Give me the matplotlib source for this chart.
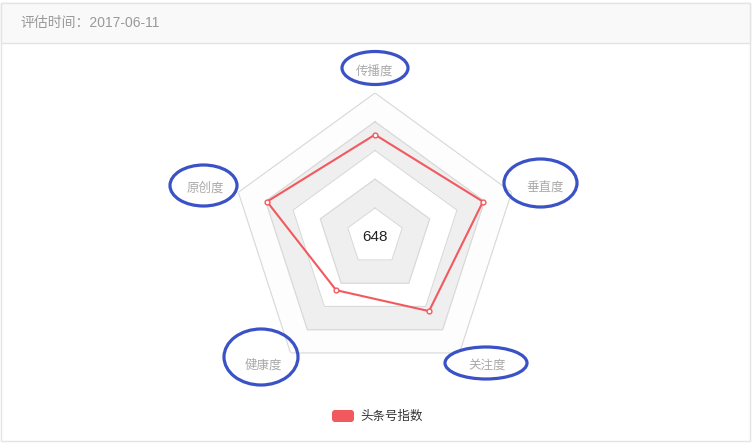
import numpy as np
import matplotlib
matplotlib.use('Agg')
import matplotlib.pyplot as plt
from matplotlib.patches import Ellipse, Rectangle, FancyBboxPatch

plt.rcParams['font.family'] = ['Noto Sans CJK SC', 'DejaVu Sans']
latin = ['Liberation Sans', 'Noto Sans CJK SC']

# data
dims = ['传播度', '垂直度', '关注度', '健康度', '原创度']
values = [710, 790, 640, 460, 790]
max_value = 1000
score = '648'
series_name = '头条号指数'
eval_date = '2017-06-11'

W, H = 754, 443
red = '#f2595e'
blue = '#3a52c6'

fig = plt.figure(figsize=(W / 100, H / 100), dpi=100)

# background panel + header (pixel coords)
bg = fig.add_axes([0, 0, 1, 1])
bg.set_xlim(0, W)
bg.set_ylim(H, 0)
bg.axis('off')
bg.add_patch(Rectangle((0.5, 2.5), 749, 438, fc='white', ec='#e4e4e4', lw=1))
bg.add_patch(Rectangle((0.5, 2.5), 749, 40, fc='#f9f9f9', ec='#e4e4e4', lw=1))
bg.text(20, 23, '评估时间：' + eval_date, color='#999999', fontsize=10,
        va='center', family=latin)

# legend
bg.add_patch(FancyBboxPatch((332, 410), 22, 12, boxstyle='round,pad=0,rounding_size=3',
                            fc=red, ec='none'))
bg.text(360, 416, series_name, color='#333333', fontsize=9, va='center')

# radar
cx, cy, R = 375, 236.7, 143.7
ax = fig.add_axes([(cx - R) / W, (H - cy - R) / H, 2 * R / W, 2 * R / H], polar=True)
ax.set_theta_offset(np.pi / 2)
ax.set_theta_direction(-1)
ax.set_ylim(0, 1)
ax.axis('off')

theta = np.linspace(0, 2 * np.pi, len(dims), endpoint=False)
tc = np.append(theta, theta[0])
levels = [1.0, 0.8, 0.6, 0.4, 0.2]
colors = ['#fdfdfd', '#efefef', '#ffffff', '#efefef', '#ffffff']
for lv, c in zip(levels, colors):
    ax.fill(tc, [lv] * len(tc), color=c, zorder=1)
    ax.plot(tc, [lv] * len(tc), color='#d8d8d8', lw=0.8, zorder=2)

r = np.array(values) / max_value
ax.plot(tc, np.append(r, r[0]), color=red, lw=1.5, zorder=3)
ax.scatter(theta, r, s=12, facecolor='white', edgecolor=red, lw=1, zorder=4)

ax.text(0, 0, score, ha='center', va='center', fontsize=11, color='#222222',
        family=latin, zorder=5)

for t, name in zip(theta, dims):
    s = np.sin(t)
    ha = 'left' if s > 0.01 else ('right' if s < -0.01 else 'center')
    va = 'bottom' if np.cos(t) > 0.99 else 'center'
    ax.text(t, 1.104, name, ha=ha, va=va, fontsize=9, color='#aaaaaa', clip_on=False)

# hand drawn ellipse marks (pixel coords)
top = fig.add_axes([0, 0, 1, 1])
top.set_xlim(0, W)
top.set_ylim(H, 0)
top.axis('off')
marks = [(375, 68, 66, 33), (540.5, 183, 73, 48), (486, 363, 82, 32),
         (261, 357, 74, 56), (203.5, 185.5, 67, 41)]
for x, y, w, h in marks:
    top.add_patch(Ellipse((x, y), w, h, fill=False, ec=blue, lw=2.3))

fig.savefig('out.png', dpi=100)
